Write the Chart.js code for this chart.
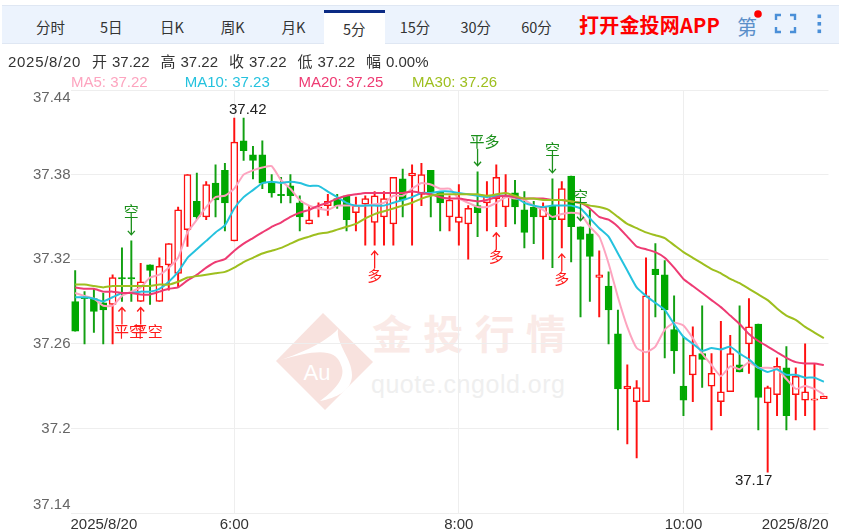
<!DOCTYPE html>
<html>
<head>
<meta charset="utf-8">
<script src="https://cdn.jsdelivr.net/npm/chart.js@4/dist/chart.umd.js"></script>
<style>
  html, body { margin: 0; padding: 0; background: #fff; }
  body { position: relative; width: 846px; height: 532px; overflow: hidden; font-family: "Liberation Sans", "Noto Sans CJK SC", sans-serif; }
  #bar { position: absolute; left: 2px; top: 5px; width: 837px; height: 37px; background: #ecf3fd; border-top: 1px solid #dfe7f3; border-bottom: 1px solid #dfe7f3; }
  .tab { position: absolute; top: 10px; width: 61px; height: 33px; line-height: 34px; text-align: center; font-size: 14.5px; color: #333; font-family: "Noto Sans CJK SC", sans-serif; }
  .tab.on { background: #fff; border-top: 3px solid #0b2a84; height: 31px; top: 10px; line-height: 32px; }
  #app { position: absolute; left: 579px; top: 11px; font-size: 20px; letter-spacing: 0.2px; line-height: 28px; font-weight: 700; color: #f00; font-family: "Noto Sans CJK SC", sans-serif; white-space: nowrap; }
  #first { position: absolute; left: 737px; top: 12px; font-size: 20px; line-height: 30px; color: #5b8fc9; font-family: "Noto Sans CJK SC", sans-serif; }
  #icons { position: absolute; left: 0; top: 0; }
  .info { position: absolute; top: 52px; font-size: 15px; line-height: 20px; color: #333; white-space: nowrap; }
  .ma { position: absolute; top: 72px; font-size: 15px; line-height: 20px; white-space: nowrap; }
  #mark { position: absolute; left: 0; top: 0; }
  canvas { position: absolute; left: 0; top: 0; }
</style>
</head>
<body>
<svg id="mark" width="846" height="532">
  <path d="M323 313 L373 362 L325 410 L276 361 Z" fill="#f8e2de"/>
  <path d="M280 360 C302 353 326 342 338 329 C336 345 352 358 352 375 C352 391 336 398 320 401 C338 388 346 376 341 365 C335 346 310 352 280 360 Z" fill="#fff"/>
  <text x="317" y="380" font-size="22" fill="#fff" text-anchor="middle" font-family="Liberation Sans">Au</text>
  <text x="372" y="349" font-size="40" font-weight="700" fill="#faeae7" textLength="194" font-family="Noto Sans CJK SC">金投行情</text>
  <text x="371" y="393" font-size="25" fill="#efefef" textLength="194" font-family="Liberation Sans">quote.cngold.org</text>
</svg>
<div id="bar"></div>
<div id="app">打开金投网APP</div>
<div id="first">第</div>
<svg id="icons" width="846" height="50">
  <circle cx="758" cy="14" r="3.8" fill="#f00"/>
  <path d="M776 20 V15 H781 M790 15 H795 V20 M795 27 V32 H790 M781 32 H776 V27" fill="none" stroke="#4a8fd8" stroke-width="2.4"/>
  <rect x="817.5" y="14.5" width="3.6" height="3.6" fill="#4a8fd8"/>
  <rect x="817.5" y="22" width="3.6" height="3.6" fill="#4a8fd8"/>
  <rect x="817.5" y="29.5" width="3.6" height="3.6" fill="#4a8fd8"/>
</svg>
<canvas id="myChart" width="846" height="532"></canvas>

<script>
const tabLabels = ["分时", "5日", "日K", "周K", "月K", "5分", "15分", "30分", "60分"];
const activeTab = 5;
const infoLabels = ["开", "高", "收", "低", "幅"];
const infoValues = ["37.22", "37.22", "37.22", "37.22", "0.00%"];
const infoDate = "2025/8/20";

const opens = [37.290,37.293,37.292,37.289,37.288,37.307,37.307,37.290,37.316,37.290,
  37.316,37.310,37.341,37.361,37.350,37.374,37.383,37.333,37.404,37.394,
  37.394,37.374,37.366,37.372,37.360,37.345,37.356,37.358,37.363,37.365,
  37.353,37.359,37.346,37.350,37.345,37.377,37.379,37.366,37.383,37.368,
  37.350,37.346,37.345,37.358,37.360,37.363,37.357,37.367,37.355,37.357,
  37.350,37.358,37.348,37.379,37.343,37.338,37.307,37.301,37.267,37.228,
  37.219,37.219,37.313,37.309,37.270,37.230,37.238,37.253,37.230,37.219,
  37.226,37.245,37.260,37.274,37.218,37.224,37.243,37.224,37.220,37.220,37.221];
const closes = [37.269,37.292,37.283,37.284,37.307,37.306,37.306,37.304,37.312,37.315,
  37.331,37.355,37.380,37.350,37.373,37.362,37.360,37.403,37.397,37.390,
  37.374,37.367,37.365,37.365,37.350,37.348,37.357,37.361,37.358,37.348,
  37.358,37.363,37.365,37.363,37.378,37.362,37.381,37.380,37.367,37.360,
  37.362,37.350,37.356,37.353,37.365,37.378,37.365,37.357,37.339,37.350,
  37.357,37.348,37.370,37.343,37.334,37.322,37.309,37.284,37.228,37.230,
  37.229,37.294,37.309,37.284,37.255,37.220,37.252,37.249,37.239,37.226,
  37.253,37.240,37.272,37.222,37.229,37.244,37.209,37.237,37.226,37.221,37.223];
const highs = [37.312,37.297,37.299,37.296,37.309,37.328,37.333,37.317,37.316,37.321,
  37.331,37.357,37.380,37.381,37.375,37.387,37.388,37.420,37.420,37.400,
  37.404,37.380,37.378,37.380,37.365,37.358,37.360,37.366,37.366,37.365,
  37.364,37.365,37.368,37.368,37.378,37.384,37.387,37.388,37.383,37.368,
  37.365,37.373,37.358,37.382,37.375,37.387,37.380,37.376,37.368,37.361,
  37.360,37.377,37.375,37.379,37.343,37.355,37.326,37.311,37.284,37.245,
  37.234,37.321,37.331,37.319,37.294,37.265,37.272,37.287,37.253,37.276,
  37.266,37.287,37.292,37.274,37.230,37.250,37.258,37.243,37.260,37.246,37.223];
const lows = [37.269,37.260,37.268,37.260,37.260,37.290,37.290,37.290,37.288,37.290,
  37.298,37.300,37.329,37.348,37.348,37.350,37.340,37.333,37.390,37.377,
  37.370,37.364,37.360,37.360,37.340,37.345,37.350,37.351,37.356,37.340,
  37.340,37.330,37.330,37.330,37.330,37.350,37.330,37.358,37.350,37.340,
  37.340,37.330,37.320,37.336,37.340,37.343,37.343,37.345,37.328,37.331,
  37.320,37.314,37.328,37.318,37.279,37.290,37.279,37.260,37.199,37.189,
  37.179,37.219,37.279,37.250,37.239,37.209,37.219,37.229,37.199,37.209,
  37.226,37.240,37.239,37.199,37.169,37.209,37.199,37.206,37.209,37.199,37.221];

const ma5 = [37.296,37.294,37.292,37.287,37.287,37.294,37.297,37.300,37.307,37.309,
  37.314,37.321,37.339,37.348,37.357,37.364,37.365,37.370,37.380,37.383,
  37.385,37.386,37.376,37.370,37.362,37.358,37.356,37.355,37.358,37.358,
  37.358,37.358,37.359,37.360,37.365,37.365,37.370,37.374,37.373,37.370,
  37.370,37.363,37.360,37.357,37.357,37.360,37.364,37.363,37.362,37.358,
  37.355,37.350,37.352,37.353,37.352,37.343,37.336,37.317,37.293,37.272,
  37.257,37.254,37.258,37.270,37.275,37.273,37.264,37.253,37.245,37.237,
  37.244,37.242,37.247,37.243,37.243,37.242,37.235,37.228,37.230,37.228,37.224];
const ma10 = [37.293,37.293,37.292,37.290,37.293,37.296,37.296,37.297,37.297,37.299,
  37.304,37.311,37.321,37.327,37.333,37.339,37.344,37.356,37.364,37.369,
  37.374,37.375,37.374,37.375,37.374,37.372,37.372,37.368,37.364,37.360,
  37.358,37.358,37.358,37.358,37.360,37.362,37.364,37.367,37.367,37.368,
  37.368,37.367,37.366,37.365,37.364,37.365,37.365,37.364,37.360,37.358,
  37.357,37.358,37.358,37.358,37.356,37.349,37.342,37.336,37.324,37.312,
  37.300,37.294,37.289,37.284,37.274,37.265,37.260,37.255,37.257,37.256,
  37.258,37.253,37.249,37.243,37.240,37.242,37.238,37.238,37.236,37.236,37.233];
const ma20 = [37.300,37.299,37.299,37.297,37.297,37.296,37.296,37.295,37.295,37.297,
  37.299,37.300,37.305,37.309,37.314,37.318,37.320,37.326,37.331,37.335,
  37.339,37.343,37.346,37.350,37.353,37.355,37.358,37.360,37.363,37.365,
  37.366,37.367,37.367,37.367,37.367,37.367,37.368,37.367,37.366,37.364,
  37.363,37.363,37.362,37.361,37.362,37.364,37.365,37.364,37.363,37.363,
  37.363,37.362,37.362,37.361,37.360,37.356,37.350,37.348,37.343,37.336,
  37.329,37.327,37.325,37.321,37.314,37.306,37.301,37.296,37.291,37.286,
  37.280,37.274,37.267,37.262,37.258,37.254,37.250,37.247,37.246,37.246,37.245];
const ma30 = [37.302,37.302,37.301,37.300,37.301,37.301,37.301,37.301,37.301,37.302,
  37.302,37.304,37.307,37.308,37.309,37.310,37.311,37.314,37.318,37.321,
  37.324,37.326,37.328,37.331,37.334,37.336,37.338,37.339,37.341,37.343,
  37.345,37.349,37.352,37.354,37.356,37.358,37.360,37.363,37.365,37.366,
  37.366,37.366,37.366,37.366,37.365,37.366,37.367,37.365,37.363,37.363,
  37.362,37.362,37.362,37.361,37.360,37.358,37.357,37.355,37.350,37.345,
  37.342,37.339,37.337,37.335,37.330,37.325,37.321,37.317,37.313,37.310,
  37.306,37.303,37.299,37.295,37.291,37.285,37.280,37.277,37.272,37.268,37.264];

const maNames = ["MA5", "MA10", "MA20", "MA30"];
const maLast = ["37.22", "37.23", "37.25", "37.26"];
const maColors = ["#fda4bf", "#25c2de", "#ee3b73", "#9ebf1f"];
const maSeries = [ma5, ma10, ma20, ma30];

const yTickValues = [37.14, 37.2, 37.26, 37.32, 37.38, 37.44];
const yTickLabels = ["37.14", "37.2", "37.26", "37.32", "37.38", "37.44"];
const xTickValues = [-0.5, 17, 41, 65, 80.5];
const xTickLabels = ["2025/8/20", "6:00", "8:00", "10:00", "2025/8/20"];

// trade signals: sells hang above the candle high, buys sit under the candle low
const sellIndex = [6, 43, 51, 54];
const sellText = ["空", "平多", "空", "空"];
const buyIndex = [5, 7, 32, 45, 52];
const buyText = ["平空", "平空", "多", "多", "多"];

const RED = "#ff1010";
const GREEN = "#00a800";

tabLabels.forEach((label, i) => {
  const el = document.createElement("div");
  el.className = i === activeTab ? "tab on" : "tab";
  el.style.left = 20 + i * 60.75 + "px";
  el.textContent = label;
  document.body.insertBefore(el, document.getElementById("app"));
});

function addInfo(text, left, spacing) {
  const el = document.createElement("div");
  el.className = "info";
  el.style.left = left + "px";
  if (spacing) el.style.letterSpacing = spacing + "px";
  el.textContent = text;
  document.body.appendChild(el);
}
addInfo(infoDate, 8, 0.7);
infoLabels.forEach((label, i) => {
  addInfo(label, 92 + i * 68.5);
  addInfo(infoValues[i], 112 + i * 68.5);
});

maNames.forEach((name, i) => {
  const el = document.createElement("div");
  el.className = "ma";
  el.style.left = 71 + i * 113.7 + "px";
  el.style.color = maColors[i];
  el.textContent = name + ": " + maLast[i];
  document.body.appendChild(el);
});

const isUp = (i) => closes[i] >= opens[i];

const signalPlugin = {
  id: "signals",
  afterDatasetsDraw(chart) {
    const { ctx, scales } = chart;
    const drawSignal = (index, text, price, dir, color) => {
      const x = scales.x.getPixelForValue(index);
      const tip = scales.y.getPixelForValue(price) + dir * 6;
      const tail = tip + dir * 17;
      ctx.strokeStyle = color;
      ctx.lineWidth = 1.3;
      ctx.beginPath();
      ctx.moveTo(x, tail);
      ctx.lineTo(x, tip);
      ctx.moveTo(x - 3.5, tip + dir * 4);
      ctx.lineTo(x, tip);
      ctx.lineTo(x + 3.5, tip + dir * 4);
      ctx.stroke();
      ctx.fillStyle = color;
      ctx.font = '15px "Noto Sans CJK SC"';
      ctx.textAlign = "center";
      ctx.textBaseline = "middle";
      ctx.fillText(text, x + (text.length > 1 ? 7 : 0), tip + dir * 24);
    };
    ctx.save();
    sellIndex.forEach((idx, i) => drawSignal(idx, sellText[i], highs[idx], -1, "#1b8f1b"));
    buyIndex.forEach((idx, i) => drawSignal(idx, buyText[i], lows[idx], 1, "#ff1a1a"));

    // day high and low labels
    ctx.fillStyle = "#222";
    ctx.font = '15px "Liberation Sans"';
    ctx.fillText("37.42", scales.x.getPixelForValue(17) + 13.5, scales.y.getPixelForValue(highs[17]) - 8);
    ctx.fillText("37.17", scales.x.getPixelForValue(74) - 14, scales.y.getPixelForValue(lows[74]) + 9);
    ctx.restore();
  },
};

const ctx = document.getElementById("myChart").getContext("2d");
new Chart(ctx, {
  type: "bar",
  plugins: [signalPlugin],
  data: {
    datasets: [
      {
        type: "bar",
        label: "wick",
        order: 6,
        grouped: false,
        barThickness: 1.3,
        data: highs.map((h, i) => ({ x: i, y: [lows[i], h] })),
        backgroundColor: highs.map((h, i) => (isUp(i) ? RED : "#12a012")),
      },
      {
        type: "bar",
        label: "body",
        order: 5,
        grouped: false,
        barThickness: 7,
        borderWidth: 1.5,
        borderSkipped: false,
        data: opens.map((o, i) => ({ x: i, y: [o, closes[i]] })),
        backgroundColor: opens.map((o, i) => (isUp(i) ? "#fff" : GREEN)),
        borderColor: opens.map((o, i) => (isUp(i) ? RED : GREEN)),
      },
      ...maSeries.map((series, m) => ({
        type: "line",
        label: maNames[m],
        order: 4 - m,
        data: series.map((v, i) => ({ x: i, y: v })),
        borderColor: maColors[m],
        borderWidth: 2,
        pointRadius: 0,
        tension: 0.15,
      })),
    ],
  },
  options: {
    responsive: false,
    animation: false,
    layout: { padding: { top: 90, right: 17.5, left: 0, bottom: 0 } },
    plugins: { legend: { display: false }, tooltip: { enabled: false } },
    scales: {
      x: {
        type: "linear",
        offset: false,
        min: -0.5,
        max: 80.5,
        afterBuildTicks: (scale) => {
          scale.ticks = xTickValues.map((v) => ({ value: v }));
        },
        afterFit: (scale) => {
          scale.height = 19;
        },
        grid: {
          offset: false,
          drawTicks: false,
          color: (c) => (c.index === 0 || c.index === xTickValues.length - 1 ? "rgba(0,0,0,0)" : "#eeeeee"),
        },
        border: { display: false },
        ticks: {
          autoSkip: false,
          maxRotation: 0,
          align: "inner",
          padding: 3,
          color: "#333",
          font: { family: "Liberation Sans", size: 15 },
          callback: (value, index) => xTickLabels[index],
        },
      },
      y: {
        type: "linear",
        min: 37.14,
        max: 37.44,
        afterBuildTicks: (scale) => {
          scale.ticks = yTickValues.map((v) => ({ value: v }));
        },
        afterFit: (scale) => {
          scale.width = 70.5;
        },
        grid: { drawTicks: false, color: "#eeeeee" },
        border: { display: false },
        ticks: {
          padding: 0,
          color: "#666",
          font: { family: "Liberation Sans", size: 15, lineHeight: "16px" },
          // the outer labels sit inside the plot, an empty line pushes them in
          callback: (value, index) => {
            if (index === 0) return [yTickLabels[index], ""];
            if (index === yTickLabels.length - 1) return ["", yTickLabels[index]];
            return yTickLabels[index];
          },
        },
      },
    },
  },
});
</script>
</body>
</html>
